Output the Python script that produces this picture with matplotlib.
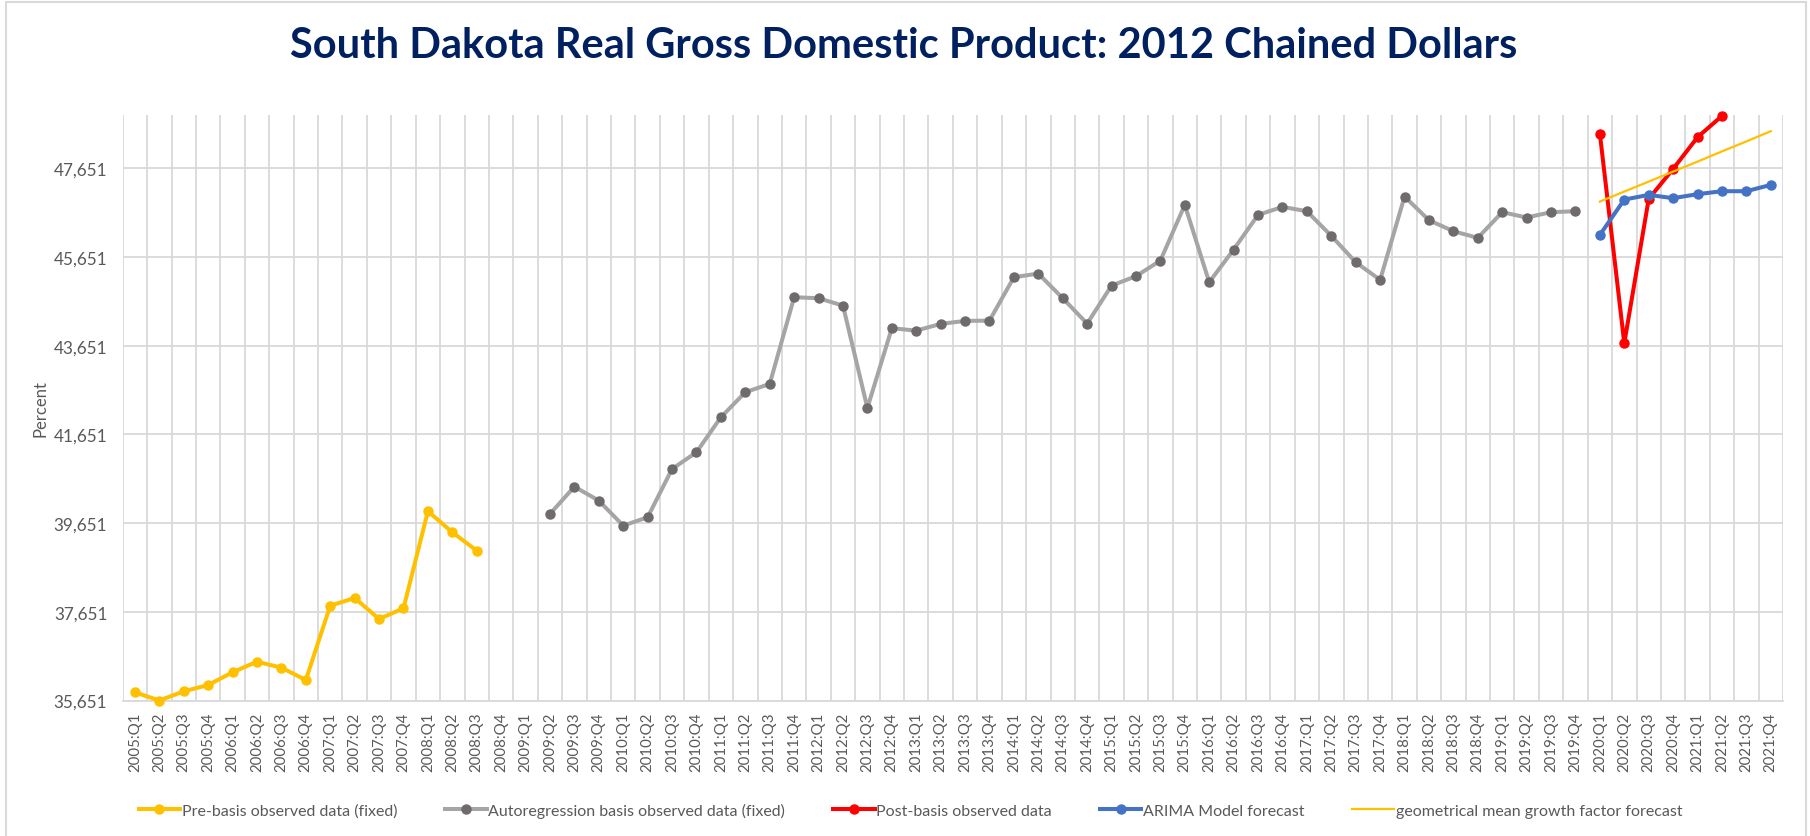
import numpy as np
import matplotlib
matplotlib.use('Agg')
from matplotlib import pyplot as plt
from matplotlib.patches import Rectangle

plt.rcParams['font.family'] = ['Lato', 'DejaVu Sans']

# categories: 2005:Q1 .. 2021:Q4
years = list(range(2005, 2022))
quarters = ['{}:Q{}'.format(y, q) for y in years for q in range(1, 5)]

# Pre-basis observed data (fixed): 2005:Q1 - 2008:Q3
pre_basis = [35836, 35651, 35858, 36000, 36287, 36526, 36391, 36113,
             37789, 37962, 37489, 37730, 39918, 39444, 39029]

# Autoregression basis observed data (fixed): 2009:Q2 - 2019:Q4
ar_basis = [39857, 40472, 40157, 39593, 39782, 40871, 41248, 42037,
            42601, 42788, 44743, 44720, 44554, 42247, 44044, 43990,
            44141, 44209, 44215, 45194, 45276, 44720, 44148, 45005,
            45217, 45569, 46825, 45081, 45817, 46599, 46779, 46682,
            46126, 45532, 45133, 47012, 46479, 46231, 46081, 46660,
            46540, 46660, 46682]

# Post-basis observed data: 2020:Q1 - 2021:Q2
post_basis = [48426, 43706, 46960, 47636, 48351, 48830]

# ARIMA Model forecast: 2020:Q1 - 2021:Q4
arima = [46148, 46944, 47050, 46976, 47066, 47133, 47133, 47275]

# geometrical mean growth factor forecast: 2020:Q1 - 2021:Q4
geo_mean = [46899, 47125, 47350, 47575, 47800, 48030, 48255, 48486]

y_ticks = [35651, 37651, 39651, 41651, 43651, 45651, 47651]

n = len(quarters)
x = np.arange(n)


def place(values, start):
    s = np.full(n, np.nan)
    s[start:start + len(values)] = values
    return s


pre_s = place(pre_basis, 0)
ar_s = place(ar_basis, 17)
post_s = place(post_basis, 60)
arima_s = place(arima, 60)
geo_s = place(geo_mean, 60)

fig = plt.figure(figsize=(18.10, 8.37), dpi=100)
ax = fig.add_axes([122.7 / 1810, 1 - 701.5 / 837, (1783 - 122.7) / 1810, (701.5 - 116) / 837])

grid_c = '#d9d9d9'
lw = 2.9
ms = 6.5

ax.plot(x, pre_s, color='#ffc000', lw=lw, marker='o', ms=ms, label='Pre-basis observed data (fixed)',
        clip_on=False, zorder=3)
ax.plot(x, ar_s, color='#a5a5a5', lw=lw, marker='o', ms=ms, mfc='#6f6b6b', mec='#6f6b6b',
        label='Autoregression basis observed data (fixed)', clip_on=False, zorder=3)
ax.plot(x, post_s, color='#ff0000', lw=lw, marker='o', ms=ms, label='Post-basis observed data',
        clip_on=False, zorder=4)
ax.plot(x, arima_s, color='#4472c4', lw=lw, marker='o', ms=ms, label='ARIMA Model forecast',
        clip_on=False, zorder=4)
ax.plot(x, geo_s, color='#ffc000', lw=1.6, label='geometrical mean growth factor forecast',
        clip_on=False, zorder=4)

ax.set_xlim(-0.5, n - 0.5)
ax.set_ylim(35651, 48851)

ax.set_yticks(y_ticks)
ax.set_yticklabels(['{:,}'.format(v) for v in y_ticks])
ax.set_xticks(x)
ax.set_xticklabels(quarters, rotation=90)
ax.set_xticks(np.arange(-0.5, n, 1), minor=True)

ax.tick_params(axis='both', which='both', length=0, colors='#595959')
ax.tick_params(axis='y', labelsize=12.3, pad=11)
ax.tick_params(axis='x', labelsize=10.8, pad=8)

ax.grid(axis='y', which='major', color=grid_c, lw=1.3)
ax.grid(axis='x', which='minor', color=grid_c, lw=1.3)
ax.grid(axis='x', which='major', visible=False)
ax.set_axisbelow(True)

for s in ['top', 'right', 'left']:
    ax.spines[s].set_visible(False)
ax.spines['bottom'].set_color(grid_c)
ax.spines['bottom'].set_linewidth(1.3)

ax.set_ylabel('Percent', fontsize=12, color='#595959', labelpad=4)

fig.text(0.4995, 1 - 46 / 837, 'South Dakota Real Gross Domestic Product: 2012 Chained Dollars',
         ha='center', va='center', fontsize=30, fontweight='bold', color='#002060')

leg = fig.legend(loc='center', bbox_to_anchor=(0.503, 1 - 811 / 837), ncol=5, frameon=False,
                 fontsize=11.5, handlelength=2.6, handletextpad=0.1, columnspacing=3.0,
                 labelcolor='#595959')

# chart border
fig.add_artist(Rectangle((6 / 1810, -0.01), 1800 / 1810, 1 - 3 / 837 + 0.01, transform=fig.transFigure,
                         fill=False, ec=grid_c, lw=1.5))

plt.savefig('out.png', dpi=100)
